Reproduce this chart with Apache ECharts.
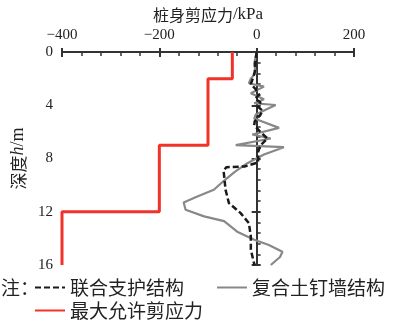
<!DOCTYPE html>
<html><head><meta charset="utf-8">
<script src="https://cdn.jsdelivr.net/npm/echarts@6/dist/echarts.min.js"></script>
<style>html,body{margin:0;padding:0;background:#fff}#c{width:400px;height:323px}</style>
</head><body><div id="c"></div>
<script>
// Data (stress in kPa, depth in m)
var xTicks = [-400, -200, 0, 200];
var yTicks = [0, 4, 8, 12, 16];
var combinedStress = [0,-3,-4,-8,-12,-2,5,-3,8,2,12,8,-4,-5,5,22,8,3,3,-25,-62,-68,-66,-64,-57,-33,-16,-12,-12,-5.5,-4];
var combinedDepth  = [0,0.8,1.5,2.0,2.4,2.8,3.2,3.5,3.8,4.1,4.4,4.7,5.2,5.5,5.9,6.5,7.0,7.5,8.3,8.6,8.65,8.9,9.6,10.35,11.35,12.1,12.85,13.85,14.85,15.85,16];
var nailStress = [0,-5,-2,-12,-16,15,-12,15,-5,-9,39,36,-2,-5,46,-9,29,-43,56,15,-19,-45,-65,-88,-122,-150,-146,-108,-67,-40,-5,25,53,48,29];
var nailDepth  = [0,0.85,1.6,2.0,2.35,2.6,3.1,3.55,3.85,3.98,3.98,4.1,4.7,5.0,5.7,6.2,6.5,7.0,7.15,7.7,8.35,9.0,9.6,10.35,10.85,11.3,11.85,12.35,12.7,13.5,14.1,14.5,15.0,15.4,16];
var allowStress = [-50,-50,-100,-100,-200,-200,-400,-400];
var allowDepth  = [0,2,2,7,7,12,12,16];
var names = ['联合支护结构','复合土钉墙结构','最大允许剪应力'];

function pairs(xs, ys){ return xs.map(function(v,i){ return [v, ys[i]]; }); }

var FONT = "Liberation Serif";
var CJK = "Noto Sans CJK SC";
var axisCol = '#333';

var chart = echarts.init(document.getElementById('c'), null, {renderer:'canvas'});
chart.setOption({
  animation: false,
  grid: {left: 62, right: 46, top: 52, bottom: 58},
  graphic: [{type:'text', left: 1, top: 278, style:{text:'注：', font: '19px "' + CJK + '"', fill:'#222'}}],
  legend: [
    {data: [names[0], names[1]], left: 34, top: 278, itemWidth: 30, itemHeight: 14, itemGap: 32,
     itemStyle:{opacity: 0},
     textStyle:{fontFamily: CJK, fontSize: 19, color:'#222'}, padding: 0},
    {data: [names[2]], left: 34, top: 301, itemWidth: 30, itemHeight: 14,
     itemStyle:{opacity: 0},
     textStyle:{fontFamily: CJK, fontSize: 19, color:'#222'}, padding: 0}
  ],
  xAxis: [{
    type:'value', position:'top', min: xTicks[0], max: xTicks[xTicks.length-1], interval: 200,
    name: '{c|桩身剪应力}{l|/kPa}', nameLocation:'middle', nameGap: 28,
    nameTextStyle:{rich:{c:{fontFamily: CJK, fontSize: 16, color:'#222'}, l:{fontFamily: FONT, fontSize: 17, color:'#222'}}},
    axisLine:{lineStyle:{color: axisCol, width: 2}},
    axisTick:{show:true, inside:false, length:4, lineStyle:{color: axisCol, width: 2}},
    axisLabel:{fontFamily: FONT, fontSize: 15, color:'#222', margin: 9,
      formatter: function(v){ return v < 0 ? '\u2212' + (-v) : String(v); }},
    splitLine:{show:false}
  },{
    type:'value', position:'top', min: xTicks[0], max: xTicks[xTicks.length-1], interval: 200,
    axisLine:{show:false},
    axisTick:{show:true, inside:true, length:5, lineStyle:{color: axisCol, width: 2}},
    minorTick:{show:true, splitNumber:5, length:4, lineStyle:{color: axisCol, width: 1.5}},
    axisLabel:{show:false}, splitLine:{show:false}
  }],
  yAxis: [{
    type:'value', inverse: true, position:'left', min: yTicks[0], max: yTicks[yTicks.length-1], interval: 4,
    name: '{a|深度}{i|h}{b|/m}', nameLocation:'middle', nameGap: 30, nameRotate: 90,
    nameTextStyle:{rich:{a:{fontFamily: CJK, fontSize: 17, color:'#222'}, i:{fontFamily: FONT, fontStyle:'italic', fontSize: 18, color:'#222'}, b:{fontFamily: FONT, fontSize: 18, color:'#222'}}},
    axisLine:{lineStyle:{color: axisCol, width: 2}},
    axisTick:{show:true, inside:false, length:5, lineStyle:{color: axisCol, width: 2}},
    axisLabel:{fontFamily: FONT, fontSize: 15, color:'#222', margin: 9},
    splitLine:{show:false}
  },{
    type:'value', inverse: true, position:'left', min: yTicks[0], max: yTicks[yTicks.length-1], interval: 4,
    axisLine:{show:false},
    axisTick:{show:true, inside:true, length:4, lineStyle:{color: axisCol, width: 2}},
    minorTick:{show:true, splitNumber:5, length:4, lineStyle:{color: axisCol, width: 1.5}},
    axisLabel:{show:false}, splitLine:{show:false}
  }],
  series: [
    {name: names[1], type:'line', data: pairs(nailStress, nailDepth), symbol:'none', z: 3,
     lineStyle:{color:'#888', width: 2.2}, itemStyle:{color:'#888'}},
    {name: names[0], type:'line', data: pairs(combinedStress, combinedDepth), symbol:'none', z: 4,
     lineStyle:{color:'#1a1a1a', width: 2.5, type:[6,3]}, itemStyle:{color:'#1a1a1a'}},
    {name: names[2], type:'line', data: pairs(allowStress, allowDepth), symbol:'none', z: 5,
     lineStyle:{color:'#f03228', width: 3}, itemStyle:{color:'#f03228'}}
  ]
});
</script></body></html>
